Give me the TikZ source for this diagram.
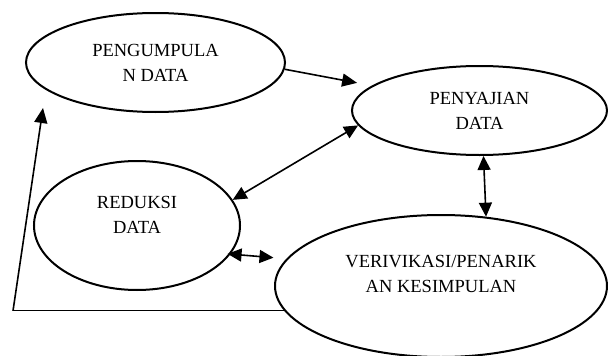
\documentclass[tikz,border=0pt]{standalone}
\usepackage{fontspec}
\setmainfont{Liberation Serif}
\usepackage{tikz}
\usetikzlibrary{arrows.meta, shapes.geometric}

\begin{document}
\begin{tikzpicture}[x=1pt, y=-1pt,
    stage/.style={ellipse, draw, line width=2pt, inner sep=0pt, align=center,
                  font=\fontsize{18.5}{25}\selectfont},
    flow/.style={line width=1.6pt, -{Triangle[length=15pt,width=13pt]}},
    twoway/.style={line width=1.6pt, {Triangle[length=14pt,width=13pt]}-{Triangle[length=14pt,width=13pt]}}]
        \useasboundingbox (0,0) rectangle (608,356);
        \node[stage, minimum width=259pt, minimum height=99pt] (peng) at (155.5,62.5)
              {PENGUMPULA\\N DATA};
        \node[stage, minimum width=255pt, minimum height=89pt] (peny) at (479.5,110.5)
              {PENYAJIAN\\DATA};
        \node[stage, minimum width=206pt, minimum height=129pt, text depth=22pt] (red) at (137,225.5)
              {REDUKSI\\DATA};
        \node[stage, minimum width=332pt, minimum height=142pt, text depth=25pt] (veri) at (441,286)
              {VERIVIKASI/PENARIK\\AN KESIMPULAN};
        \coordinate (corner) at (13,311);
        \coordinate (back) at (43,108);
        \draw[flow, shorten >=15pt] (peng.-3) -- (peny.167);
        \draw[twoway] (red.15) -- (peny.187);
        \draw[twoway] (peny.275) -- (veri.57);
        \draw[twoway, shorten <=-3pt, shorten >=13pt] (red.-17) -- (veri.170);
        \draw[line width=1.2pt] (veri.189) -- (corner |- veri.189);
        \draw[flow] (corner |- veri.189) -- (back);
      \end{tikzpicture}
\end{document}
